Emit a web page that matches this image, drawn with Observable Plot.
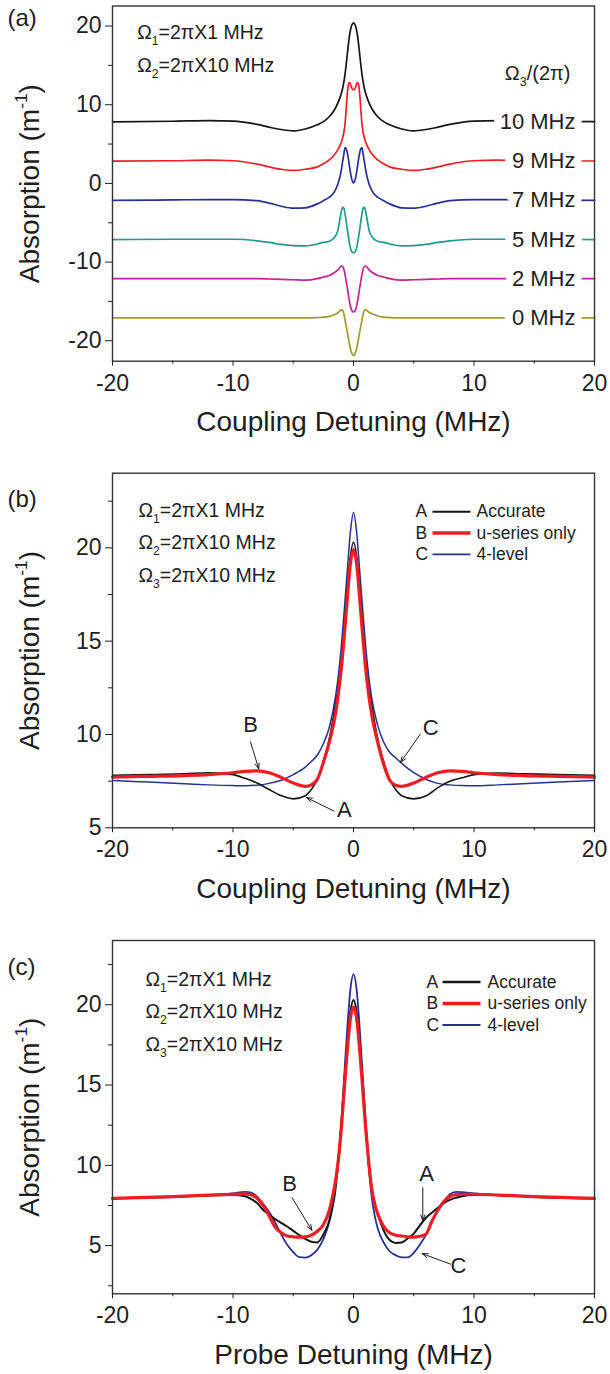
<!DOCTYPE html>
<html><head><meta charset="utf-8">
<script src="https://cdn.jsdelivr.net/npm/d3@7"></script>
<script src="https://cdn.jsdelivr.net/npm/@observablehq/plot@0.6"></script>
<style>
html,body{margin:0;padding:0;background:#fff;}
#chart{width:610px;}
#chart svg{display:block;}
</style></head><body><div id="chart"></div>
<script>
// ---------------- DATA ----------------
// Panel (a): coupling detuning grid (MHz) and offset absorption curves
const aX = [-20,-15,-12,-10,-8,-7,-6,-5,-4,-3,-2.5,-2,-1.6,-1.3,-1.1,-1.0,-0.9,-0.8,-0.7,-0.6,-0.5,-0.4,-0.3,-0.2,-0.1,0,
            0.1,0.2,0.3,0.4,0.5,0.6,0.7,0.8,0.9,1.0,1.1,1.3,1.6,2,2.5,3,4,5,6,7,8,10,12,15,20];
const a10 = [7.83,7.9,7.98,7.92,7.5,7.15,6.85,6.68,6.92,7.45,7.85,8.5,9.3,10.2,11.0,11.5,12.1,12.9,13.9,15.2,16.6,18.0,19.1,19.85,20.25,20.4,
             20.25,19.85,19.1,18.0,16.6,15.2,13.9,12.9,12.1,11.5,11.0,10.2,9.3,8.5,7.85,7.45,6.92,6.68,6.85,7.15,7.5,7.92,7.98,7.9,7.85];
const a9 = [2.82,2.88,2.95,2.88,2.45,2.1,1.8,1.65,1.8,2.1,2.5,3.0,3.6,4.3,4.9,5.3,5.8,6.5,7.6,9.6,11.6,12.7,12.8,12.35,12.0,11.9,
            12.0,12.35,12.8,12.7,11.6,9.6,7.6,6.5,5.8,5.3,4.9,4.3,3.6,3.0,2.5,2.1,1.8,1.65,1.8,2.1,2.45,2.88,2.95,2.9,2.85];
const a7 = [-2.15,-2.1,-2.05,-2.05,-2.2,-2.5,-2.9,-3.15,-3.1,-2.6,-2.2,-1.75,-1.1,-0.1,1.0,1.8,2.8,3.7,4.55,4.4,3.8,2.9,1.8,0.9,0.3,0.05,
            0.3,0.9,1.8,2.9,3.8,4.4,4.55,3.7,2.8,1.8,1.0,-0.1,-1.1,-1.75,-2.2,-2.6,-3.1,-3.15,-2.9,-2.5,-2.2,-2.05,-2.05,-2.1,-2.15];
const a5 = [-7.15,-7.1,-7.1,-7.1,-7.3,-7.5,-7.75,-7.9,-7.95,-7.7,-7.5,-7.35,-6.9,-6.0,-4.3,-3.5,-3.0,-3.15,-3.9,-4.9,-6.0,-7.0,-7.9,-8.5,-8.75,-8.8,
            -8.75,-8.5,-7.9,-7.0,-6.0,-4.9,-3.9,-3.15,-3.0,-3.5,-4.3,-6.0,-6.9,-7.35,-7.5,-7.7,-7.95,-7.9,-7.75,-7.5,-7.3,-7.1,-7.1,-7.1,-7.15];
const a2 = [-12.1,-12.1,-12.1,-12.1,-12.1,-12.15,-12.2,-12.25,-12.3,-12.1,-11.9,-11.7,-11.35,-11.0,-10.65,-10.5,-10.55,-10.9,-11.6,-12.5,-13.4,-14.4,-15.3,-15.9,-16.25,-16.35,
            -16.25,-15.9,-15.3,-14.4,-13.4,-12.5,-11.6,-10.9,-10.55,-10.5,-10.6,-11.0,-11.35,-11.7,-11.9,-12.1,-12.3,-12.25,-12.2,-12.15,-12.1,-12.1,-12.1,-12.1,-12.1];
const a0 = [-17.1,-17.1,-17.1,-17.1,-17.1,-17.1,-17.1,-17.1,-17.1,-17.05,-17.0,-16.9,-16.7,-16.45,-16.15,-16.05,-16.15,-16.6,-17.4,-18.2,-19.0,-19.9,-20.7,-21.35,-21.75,-21.87,
            -21.75,-21.35,-20.7,-19.9,-19.0,-18.2,-17.4,-16.6,-16.15,-16.05,-16.15,-16.4,-16.6,-16.85,-17.0,-17.05,-17.1,-17.1,-17.1,-17.1,-17.1,-17.1,-17.1,-17.1,-17.1];
const aNames = ["10 MHz","9 MHz","7 MHz","5 MHz","2 MHz","0 MHz"];

// Panel (b): coupling detuning
const bX = [-20,-17,-14,-12,-10,-9,-8,-7,-6,-5,-4,-3.5,-3,-2.5,-2,-1.5,-1.25,-1,-0.75,-0.5,-0.25,0,
            0.25,0.5,0.75,1,1.25,1.5,2,2.5,3,3.5,4,5,6,7,8,9,10,12,14,17,20];
const bAccurate = [7.81,7.85,7.9,7.95,7.85,7.65,7.4,7.05,6.72,6.55,6.72,7.05,7.6,8.55,9.8,11.6,12.6,14.0,16.0,18.0,19.6,20.3,
                   19.6,18.0,16.0,14.0,12.6,11.6,9.8,8.55,7.6,7.05,6.72,6.55,6.7,7.15,7.5,7.68,7.85,7.93,7.9,7.85,7.81];
const bUseries = [7.72,7.76,7.8,7.85,7.95,8.02,8.05,7.95,7.7,7.4,7.22,7.3,7.6,8.5,9.6,11.1,12.2,13.6,15.4,17.4,19.2,19.9,
                  19.2,17.4,15.4,13.6,12.2,11.1,9.6,8.4,7.55,7.28,7.22,7.4,7.7,7.95,8.05,8.02,7.95,7.85,7.8,7.76,7.72];
const bFourLevel = [7.54,7.45,7.36,7.3,7.26,7.25,7.28,7.38,7.55,7.85,8.25,8.55,8.9,9.5,10.4,12.0,13.2,14.8,16.8,18.9,20.9,21.9,
                    20.9,18.9,16.8,14.8,13.2,12.0,10.5,9.6,9.05,8.75,8.45,7.95,7.6,7.38,7.3,7.26,7.25,7.3,7.36,7.45,7.54];

// Panel (c): probe detuning
const cX = [-20,-15,-12,-10,-9,-8.5,-8,-7.5,-7,-6.5,-6,-5.5,-5,-4.5,-4,-3.5,-3,-2.5,-2,-1.75,-1.5,-1.25,-1,-0.75,-0.5,-0.25,0,
            0.25,0.5,0.75,1,1.25,1.5,1.75,2,2.5,3,3.5,4,4.5,5,5.5,6,6.5,7,7.5,8,8.5,9,10,12,15,20];
const cAccurate = [7.94,8.02,8.12,8.15,8.08,7.9,7.65,7.22,6.93,6.65,6.42,6.19,5.92,5.65,5.42,5.24,5.2,5.7,6.6,7.5,8.7,10.3,12.6,15.3,17.8,19.6,20.3,
                   19.6,17.8,15.3,12.6,10.2,8.6,7.7,7.0,5.95,5.35,5.17,5.2,5.45,5.75,6.25,6.72,7.05,7.36,7.65,7.85,7.98,8.08,8.16,8.16,8.03,7.94];
const cUseries = [7.94,8.05,8.15,8.2,8.22,8.17,7.95,7.5,6.85,6.15,5.8,5.6,5.55,5.53,5.55,5.65,5.9,6.3,7.2,8.0,9.0,10.4,12.4,14.9,17.3,19.2,19.85,
                  19.2,17.3,14.9,12.4,10.3,8.6,7.6,7.0,6.2,5.8,5.65,5.6,5.55,5.53,5.58,5.7,6.5,7.2,7.75,8.05,8.18,8.2,8.2,8.15,8.05,7.94];
const cFourLevel = [7.94,8.05,8.15,8.25,8.35,8.3,8.05,7.6,7.1,6.45,5.7,5.05,4.6,4.28,4.25,4.4,4.75,5.4,6.5,7.3,8.4,10.3,12.8,15.8,18.7,21.0,21.9,
                    21.0,18.7,15.8,12.8,10.1,8.1,6.9,6.1,5.2,4.65,4.4,4.27,4.27,4.55,5.05,5.65,6.5,7.2,7.75,8.2,8.35,8.33,8.25,8.15,8.05,7.94];

const keysBC = ["A","B","C"];
const namesBC = ["Accurate","u-series only","4-level"];
const xMajor = [-20,-10,0,10,20];
const xMinor = [-15,-5,5,15];

// ---------------- STYLE / LAYOUT ----------------
const FONT = '"Liberation Sans", Arial, Helvetica, sans-serif';
const INK = "#1e1e1e";
const C = {black:"#151515", red:"#ee1d24", blue:"#27328e", teal:"#1f9a8e", magenta:"#c02595", olive:"#a19a2f"};
const LA = {w:610, h:455, ml:112, mr:16, mt:5.5,  mb:94.3, xd:[-20,20], yd:[-22.6,22.55]};
const LB = {w:610, h:455, ml:112, mr:16, mt:17.7, mb:82.7, xd:[-20,20], yd:[5,24]};
const LC = {w:610, h:464, ml:112, mr:16, mt:30,   mb:80.7, xd:[-20,20], yd:[2,24]};

const rows = (xs, ys) => xs.map((x, i) => ({x, y: ys[i]}));
const fx = (L, dx) => L.xd[0] + dx / (L.w - L.ml - L.mr) * (L.xd[1] - L.xd[0]);
const fy = (L, dy) => L.yd[1] - dy / (L.h - L.mt - L.mb) * (L.yd[1] - L.yd[0]);

function frameAxes(L, yMajor, yMinor, xTitle, tag, tagDy) {
  return [
    Plot.frame({stroke:"#333", strokeWidth:1.4}),
    Plot.axisX({ticks:xMajor, tickSize:5, tickPadding:8, fontSize:23, tickFormat:d => String(d), label:null, color:INK}),
    Plot.axisX({ticks:xMinor, tickSize:3, tickFormat:() => "", label:null, color:INK}),
    Plot.axisY({ticks:yMajor, tickSize:7, tickPadding:4, fontSize:23, tickFormat:d => String(d), label:null, color:INK}),
    Plot.axisY({ticks:yMinor, tickSize:4, tickFormat:() => "", label:null, color:INK}),
    Plot.text([xTitle], {frameAnchor:"bottom", dy:70, lineAnchor:"bottom", fontSize:28, fill:INK}),
    Plot.text(["Absorption (m^{-1})"], {frameAnchor:"left", dx:-73.5, rotate:-90, textAnchor:"middle", lineAnchor:"bottom", fontSize:28, fill:INK}),
    Plot.text([tag], {frameAnchor:"top-left", dx:-105, dy:tagDy, textAnchor:"start", lineAnchor:"bottom", fontSize:24, fill:INK, letterSpacing:2})
  ];
}

function params(lines, dx, dy0, step) {
  return lines.map((t, i) => Plot.text([t], {frameAnchor:"top-left", dx, dy:dy0 + i*step, textAnchor:"start", lineAnchor:"bottom", fontSize:19.5, fill:INK}));
}

function legend(L, series, o) {
  const marks = [];
  series.forEach((s, i) => {
    const dy = o.dy0 + i*o.step;
    marks.push(Plot.text([keysBC[i]], {frameAnchor:"top-left", dx:o.kx, dy, textAnchor:"start", lineAnchor:"bottom", fontSize:17.5, fill:INK}));
    marks.push(Plot.link([0], {x1:fx(L, o.lx0), x2:fx(L, o.lx1), y1:fy(L, dy-5.5), y2:fy(L, dy-5.5), stroke:s.color, strokeWidth:s.lw + 0.3}));
    marks.push(Plot.text([namesBC[i]], {frameAnchor:"top-left", dx:o.tx, dy, textAnchor:"start", lineAnchor:"bottom", fontSize:17.5, fill:INK}));
  });
  return marks;
}

function pointer(label, lx, ly, x1, y1, x2, y2) {
  return [
    Plot.arrow([0], {x1, y1, x2, y2, stroke:INK, strokeWidth:1, headLength:9, headAngle:40}),
    Plot.text([label], {x:lx, y:ly, fontSize:22, fill:INK, lineAnchor:"middle"})
  ];
}

function build(L, marks) {
  return Plot.plot({
    width:L.w, height:L.h, marginLeft:L.ml, marginRight:L.mr, marginTop:L.mt, marginBottom:L.mb,
    x:{domain:L.xd, label:null}, y:{domain:L.yd, label:null},
    style:{fontFamily:FONT, color:INK, background:"#fff", overflow:"visible"},
    marks
  });
}

// sub/superscript rendering: "_{..}" and "^{..}"
function richify(svg) {
  const NS = "http://www.w3.org/2000/svg";
  svg.querySelectorAll("text").forEach(t => {
    const s = t.textContent;
    if (!/[_^]\{/.test(s)) return;
    while (t.firstChild) t.removeChild(t.firstChild);
    let back = 0;
    for (const p of s.split(/([_^]\{[^}]*\})/)) {
      if (!p) continue;
      const ts = document.createElementNS(NS, "tspan");
      const m = p.match(/^([_^])\{([^}]*)\}$/);
      if (m) {
        const sh = m[1] === "_" ? 0.32 : -0.42;
        ts.setAttribute("font-size", "62%");
        ts.setAttribute("dy", (sh / 0.62).toFixed(3) + "em");
        ts.textContent = m[2];
        back = -sh;
      } else {
        if (back) ts.setAttribute("dy", back + "em");
        back = 0;
        ts.textContent = p;
      }
      t.appendChild(ts);
    }
  });
}

// ---------------- PANEL (a) ----------------
const aSeries = [
  {name:aNames[0], ys:a10, color:C.black},
  {name:aNames[1], ys:a9,  color:C.red},
  {name:aNames[2], ys:a7,  color:C.blue},
  {name:aNames[3], ys:a5,  color:C.teal},
  {name:aNames[4], ys:a2,  color:C.magenta},
  {name:aNames[5], ys:a0,  color:C.olive}
];
const aLabels = aSeries.map(s => ({t:s.name, y:s.ys[s.ys.length - 1]}));
const plotA = build(LA, [
  ...aSeries.map(s => Plot.line(rows(aX, s.ys), {x:"x", y:"y", stroke:s.color, strokeWidth:1.7, curve:"monotone-x"})),
  Plot.text(aLabels, {y:"y", text:"t", frameAnchor:"right", dx:-19, textAnchor:"end", lineAnchor:"middle", fontSize:22, fill:INK,
    stroke:"white", strokeWidth:16, strokeLinejoin:"round", paintOrder:"stroke"}),
  ...params(["Ω_{1}=2πX1 MHz","Ω_{2}=2πX10 MHz"], 24.7, 32.5, 33),
  Plot.text(["Ω_{3}/(2π)"], {frameAnchor:"top-right", dx:-24, dy:73.5, textAnchor:"end", lineAnchor:"bottom", fontSize:20, fill:INK}),
  ...frameAxes(LA, [-20,-10,0,10,20], [-15,-5,5,15], "Coupling Detuning (MHz)", "(a)", 19.5)
]);

// ---------------- PANEL (b) ----------------
const bSeries = [
  {ys:bAccurate,  color:C.black, lw:1.6},
  {ys:bUseries,   color:C.red,   lw:3.2},
  {ys:bFourLevel, color:C.blue,  lw:1.5}
];
const plotB = build(LB, [
  ...[bSeries[2], bSeries[0], bSeries[1]].map(s => Plot.line(rows(bX, s.ys), {x:"x", y:"y", stroke:s.color, strokeWidth:s.lw, curve:"monotone-x"})),
  ...params(["Ω_{1}=2πX1 MHz","Ω_{2}=2πX10 MHz","Ω_{3}=2πX10 MHz"], 26, 43.3, 32.5),
  ...legend(LB, bSeries, {kx:303, lx0:320, lx1:358, tx:364, dy0:44, step:21.3}),
  ...pointer("B", -8.55, 10.5, -8.55, 9.6, -7.86, 8.15),
  ...pointer("A", -0.75, 5.96, -1.63, 5.9, -3.9, 6.62),
  ...pointer("C", 6.4, 10.34, 5.56, 10.03, 3.9, 8.5),
  ...frameAxes(LB, [5,10,15,20], [7.5,12.5,17.5,22.5], "Coupling Detuning (MHz)", "(b)", 34)
]);

// ---------------- PANEL (c) ----------------
const cSeries = [
  {ys:cAccurate,  color:C.black, lw:2.0},
  {ys:cUseries,   color:C.red,   lw:3.2},
  {ys:cFourLevel, color:C.blue,  lw:1.8}
];
const plotC = build(LC, [
  ...[cSeries[2], cSeries[0], cSeries[1]].map(s => Plot.line(rows(cX, s.ys), {x:"x", y:"y", stroke:s.color, strokeWidth:s.lw, curve:"monotone-x"})),
  ...params(["Ω_{1}=2πX1 MHz","Ω_{2}=2πX10 MHz","Ω_{3}=2πX10 MHz"], 33, 45, 32.5),
  ...legend(LC, cSeries, {kx:314, lx0:330, lx1:368, tx:375, dy0:47, step:21.5}),
  ...pointer("B", -5.3, 8.84, -5.09, 7.97, -3.45, 5.95),
  ...pointer("A", 6.06, 9.46, 5.75, 8.6, 5.75, 6.55),
  ...pointer("C", 8.7, 3.75, 8.05, 3.85, 5.7, 4.5),
  ...frameAxes(LC, [5,10,15,20], [2.5,7.5,12.5,17.5,22.5], "Probe Detuning (MHz)", "(c)", 34)
]);

const root = document.getElementById("chart");
for (const p of [plotA, plotB, plotC]) { richify(p); root.appendChild(p); }
</script></body></html>
